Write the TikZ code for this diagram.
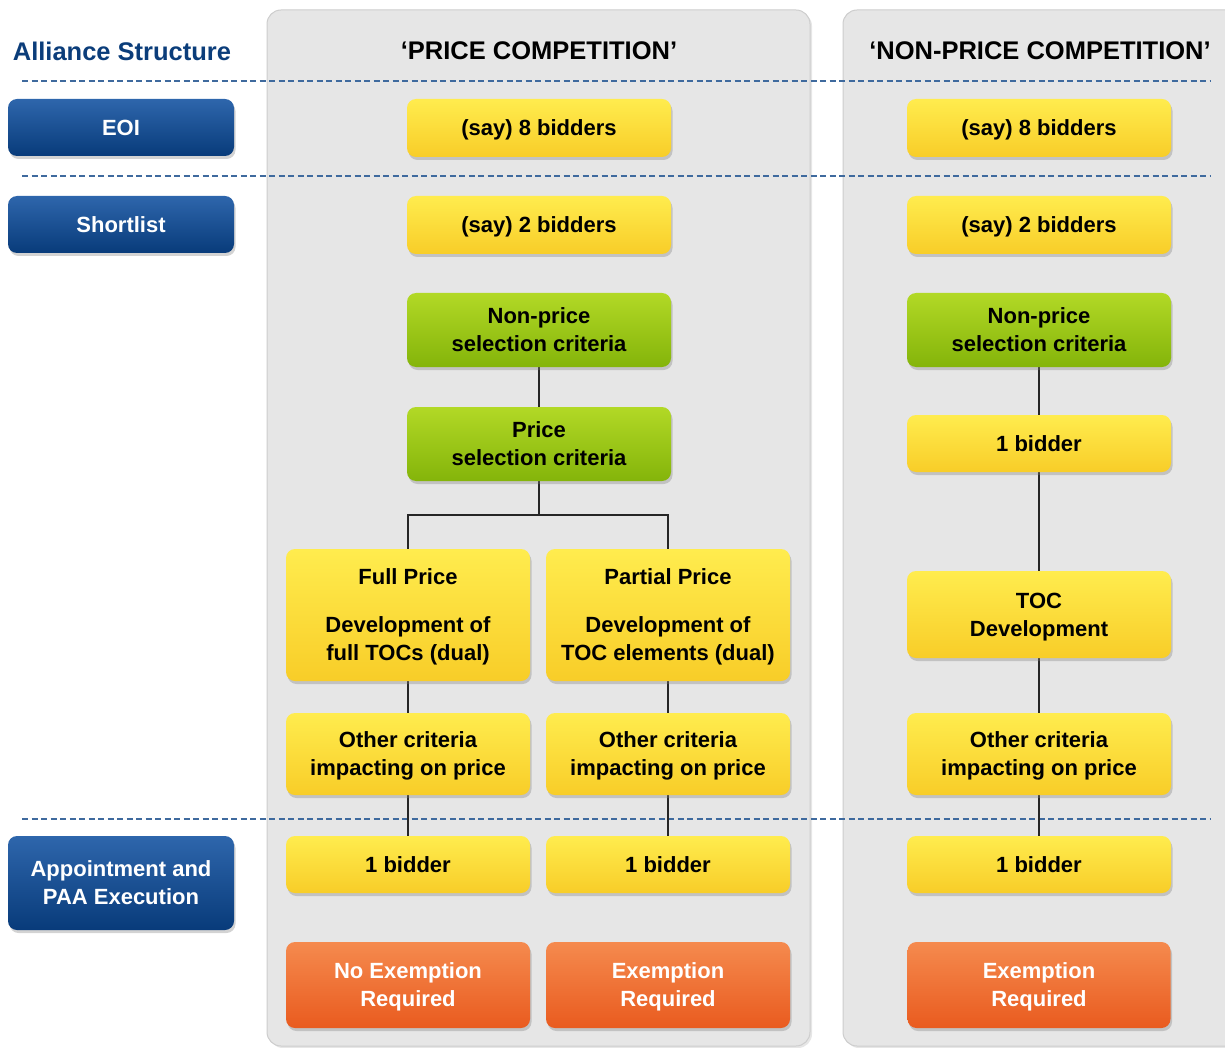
\documentclass[tikz,border=0pt]{standalone}
\usepackage{fontspec}
\setmainfont{Liberation Sans}
\usepackage{xcolor}
\usetikzlibrary{positioning, shadows, backgrounds}

\definecolor{titleblue}{HTML}{0B3D7A}
\definecolor{dashblue}{HTML}{3F6A9E}
\definecolor{panelgray}{HTML}{E6E6E6}
\definecolor{paneledge}{HTML}{CDCDCD}
\definecolor{stagetop}{HTML}{2E66AC}
\definecolor{stagebot}{HTML}{083B7A}
\definecolor{bidtop}{HTML}{FFEC4E}
\definecolor{bidbot}{HTML}{F8CD28}
\definecolor{crittop}{HTML}{B2D926}
\definecolor{critbot}{HTML}{84B40A}
\definecolor{restop}{HTML}{F58A4E}
\definecolor{resbot}{HTML}{E95B1F}

\begin{document}
\begin{tikzpicture}[
        x=1pt, y=-1pt,
        every node/.style={font=\bfseries\fontsize{22}{28}\selectfont, rounded corners=9pt, align=center, inner sep=2pt, text depth=0pt},
        boxshadow/.style={drop shadow={opacity=0.35, shadow xshift=1.5pt, shadow yshift=-3pt}},
        stage/.style={top color=stagetop, bottom color=stagebot, text=white, boxshadow, minimum width=226pt, minimum height=57pt},
        bid/.style={top color=bidtop, bottom color=bidbot, boxshadow, minimum width=264pt, minimum height=58pt},
        half/.style={bid, minimum width=244pt},
        crit/.style={top color=crittop, bottom color=critbot, boxshadow, minimum width=264pt, minimum height=74pt},
        result/.style={top color=restop, bottom color=resbot, text=white, boxshadow, minimum width=244pt, minimum height=86pt},
        head/.style={font=\bfseries\fontsize{25.5}{30}\selectfont},
        panel/.style={fill=panelgray, draw=paneledge, line width=1pt, rounded corners=14pt, drop shadow={opacity=0.2, shadow xshift=2pt, shadow yshift=-2pt}},
        sep/.style={dashblue, line width=1.2pt, dash pattern=on 6pt off 3.5pt},
        link/.style={line width=1.2pt, black!85}
    ]
    \useasboundingbox (0,0) rectangle (1225,1048);
    \clip (0,0) rectangle (1225,1048);

    % Nodes -----------------------------------------------
    \node[head, text=titleblue] (alliance) at (122,51) {Alliance Structure};
    \node[head] (pricehead)    at (539,51)  {‘PRICE COMPETITION’};
    \node[head] (nonpricehead) at (1040,51) {‘NON-PRICE COMPETITION’};

    \node[stage] (eoi)       at (121,127.5) {EOI};
    \node[stage] (shortlist) at (121,224.5) {Shortlist};
    \node[stage, minimum height=94pt] (appoint) at (121,883) {Appointment and\\PAA Execution};

    % price competition
    \node[bid]  (eightA)  at (539,128) {(say) 8 bidders};
    \node[bid]  (twoA)    at (539,225) {(say) 2 bidders};
    \node[crit] (nonA)    at (539,330) {Non-price\\selection criteria};
    \node[crit] (priceA)  at (539,444) {Price\\selection criteria};
    \coordinate (fork) at (539,515);
    \node[half, minimum height=132pt] (fullA)    at (408,615) {Full Price\\[20pt]Development of\\full TOCs (dual)};
    \node[half, minimum height=132pt] (partialA) at (668,615) {Partial Price\\[20pt]Development of\\TOC elements (dual)};
    \node[half, minimum height=82pt] (otherA1) at (408,754) {Other criteria\\impacting on price};
    \node[half, minimum height=82pt] (otherA2) at (668,754) {Other criteria\\impacting on price};
    \node[half, minimum height=57pt] (oneA1) at (408,864.5) {1 bidder};
    \node[half, minimum height=57pt] (oneA2) at (668,864.5) {1 bidder};
    \node[result] (exA1) at (408,985) {No Exemption\\Required};
    \node[result] (exA2) at (668,985) {Exemption\\Required};

    % non-price competition
    \node[bid]  (eightB) at (1039,128) {(say) 8 bidders};
    \node[bid]  (twoB)   at (1039,225) {(say) 2 bidders};
    \node[crit] (nonB)   at (1039,330) {Non-price\\selection criteria};
    \node[bid, minimum height=57pt] (oneB1)  at (1039,443.5) {1 bidder};
    \node[bid, minimum height=87pt] (tocB)   at (1039,614.5) {TOC\\Development};
    \node[bid, minimum height=82pt] (otherB) at (1039,754) {Other criteria\\impacting on price};
    \node[bid, minimum height=57pt] (oneB2)  at (1039,864.5) {1 bidder};
    \node[result, minimum width=263pt] (exB) at (1039,985) {Exemption\\Required};

    \begin{pgfonlayer}{background}
      % panels
      \path[panel] (267,10) rectangle (810,1046);
      \path[panel] (843,10) rectangle (1245,1046);

      % stage separators
      \draw[sep] (22,81)  -- (1210,81);
      \draw[sep] (22,176) -- (1210,176);
      \draw[sep] (22,819) -- (1210,819);

      % price flow
      \draw[link] (nonA) -- (priceA);
      \draw[link] (priceA.south) -- (fork);
      \draw[link] (fullA.north) |- (fork) -| (partialA.north);
      \draw[link] (fullA) -- (otherA1);
      \draw[link] (otherA1) -- (oneA1);
      \draw[link] (partialA) -- (otherA2);
      \draw[link] (otherA2) -- (oneA2);

      % non-price flow
      \draw[link] (nonB) -- (oneB1);
      \draw[link] (oneB1) -- (tocB);
      \draw[link] (tocB) -- (otherB);
      \draw[link] (otherB) -- (oneB2);
    \end{pgfonlayer}
\end{tikzpicture}
\end{document}
